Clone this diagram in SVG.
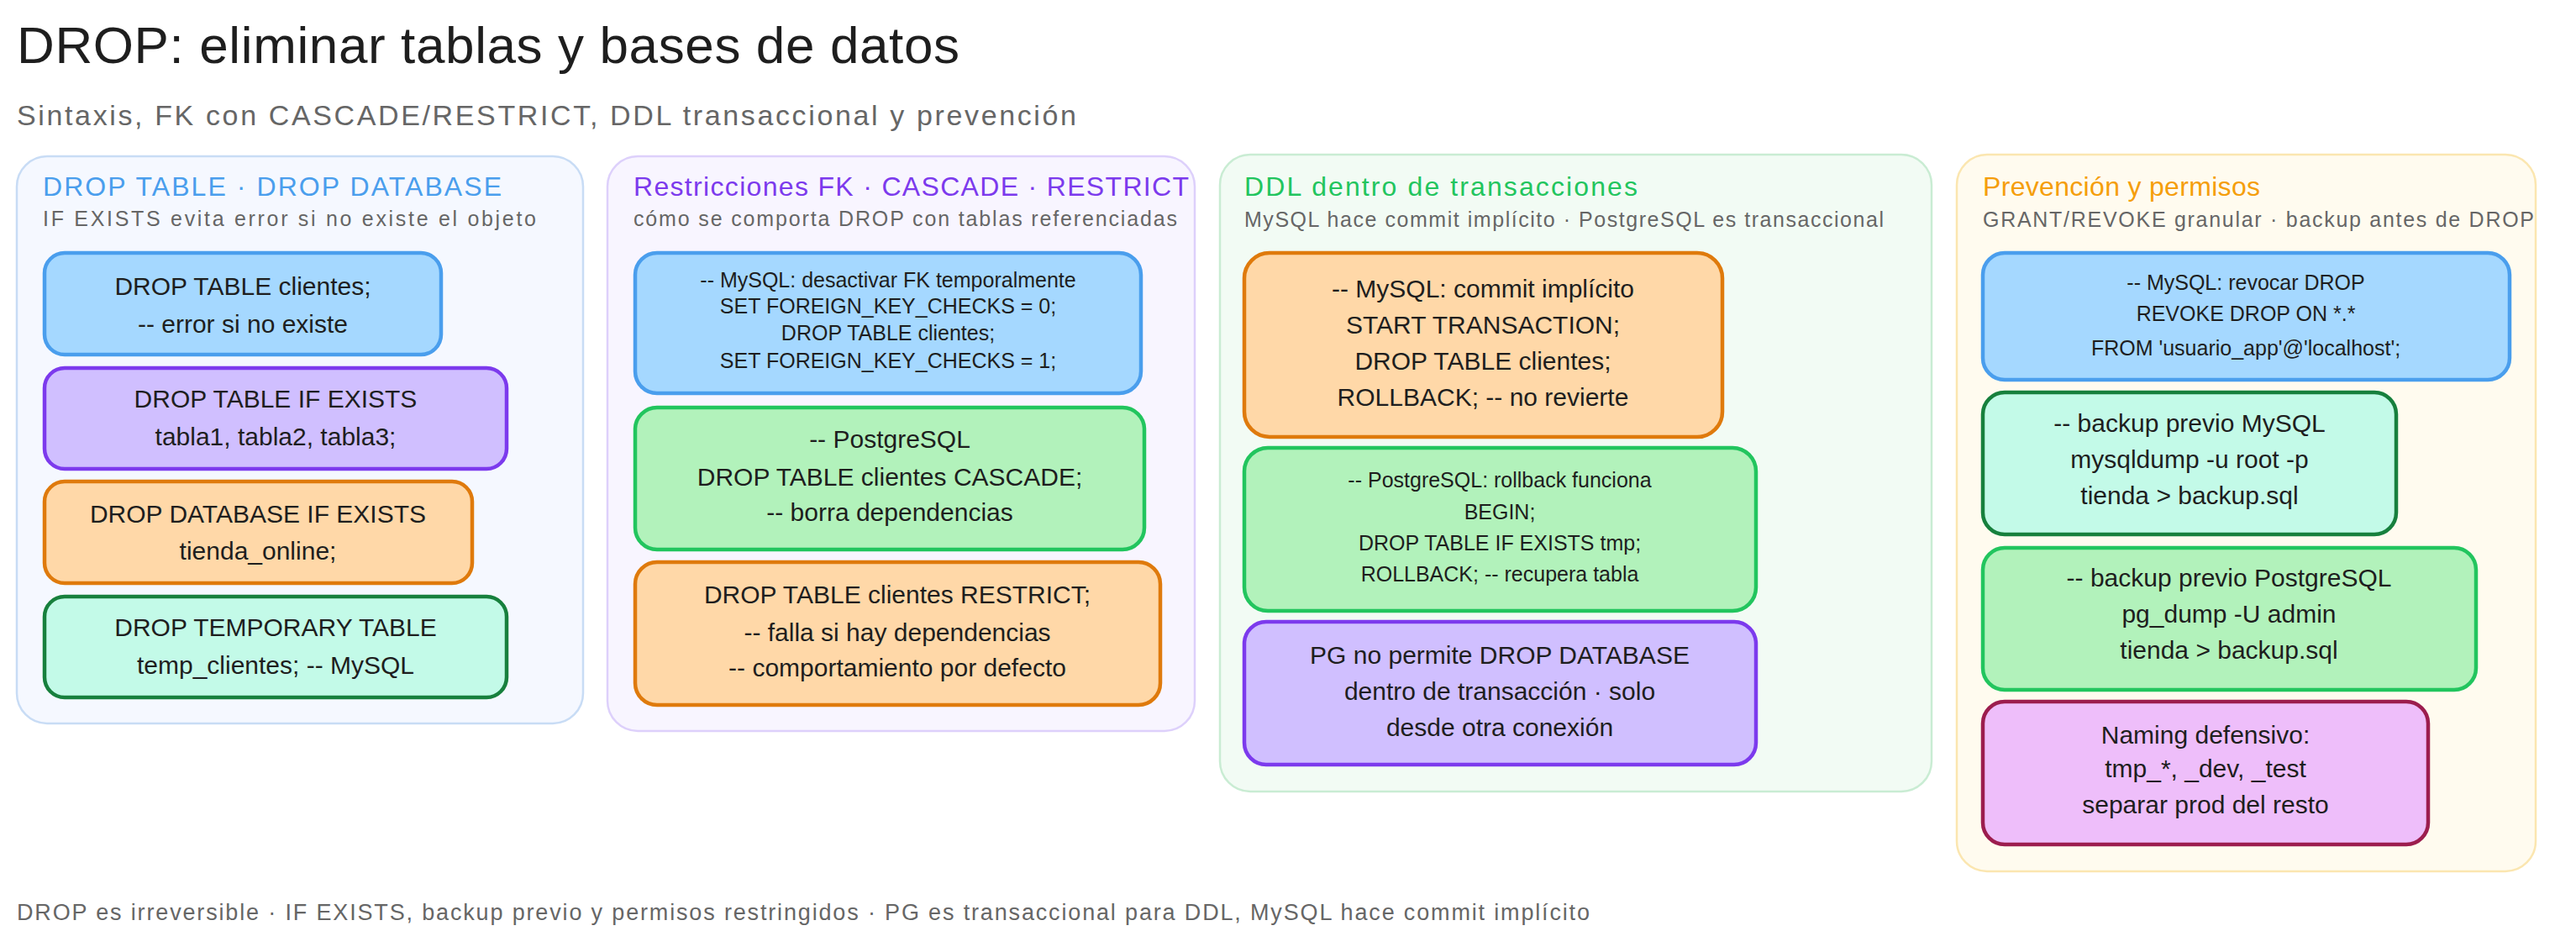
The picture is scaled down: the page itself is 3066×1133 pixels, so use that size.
<svg xmlns="http://www.w3.org/2000/svg" width="3066" height="1133" viewBox="0 0 3066 1133">
<style>
text{font-family:"Liberation Sans",Arial,sans-serif;fill:#1e1e1e}
.t{font-size:62px}
.sub{font-size:34px;fill:#666}
.ph{font-size:32px}
.ps{font-size:25px;fill:#666}
.n{font-size:30px;text-anchor:middle}
.s{font-size:25px;text-anchor:middle}
.foot{font-size:27px;fill:#666}
.pan{stroke-width:2.5}
.nd{stroke-width:4.5}
.blue{fill:#a5d8ff;stroke:#4a9eed}
.purple{fill:#d0bfff;stroke:#7c3aed}
.orange{fill:#ffd8a8;stroke:#df7a0c}
.teal{fill:#c3fae8;stroke:#17803d}
.green{fill:#b2f2bb;stroke:#22c55e}
.pink{fill:#eebefa;stroke:#9c1d4e}
</style>
<rect width="3066" height="1133" fill="#ffffff"/>
<text class="t" x="20" y="75" textLength="1122">DROP: eliminar tablas y bases de datos</text>
<text class="sub" x="20" y="149" textLength="1261">Sintaxis, FK con CASCADE/RESTRICT, DDL transaccional y prevención</text>

<g id="panel1">
<rect class="pan" x="20" y="186" width="674" height="675" rx="36" fill="#f5f8ff" stroke="#c8dcf5"/>
<text class="ph" x="51" y="233" style="fill:#4a9eed" textLength="546">DROP TABLE · DROP DATABASE</text>
<text class="ps" x="51" y="269" textLength="587">IF EXISTS evita error si no existe el objeto</text>
</g>
<g id="panel2">
<rect class="pan" x="723" y="186" width="699" height="684" rx="36" fill="#f8f5ff" stroke="#ddd0fb"/>
<text class="ph" x="754" y="233" style="fill:#7c3aed" textLength="661">Restricciones FK · CASCADE · RESTRICT</text>
<text class="ps" x="754" y="269" textLength="647">cómo se comporta DROP con tablas referenciadas</text>
</g>
<g id="panel3">
<rect class="pan" x="1452" y="184" width="847" height="758" rx="36" fill="#f2fbf4" stroke="#c9ecd3"/>
<text class="ph" x="1481" y="233" style="fill:#22c55e" textLength="468">DDL dentro de transacciones</text>
<text class="ps" x="1481" y="270" textLength="761">MySQL hace commit implícito · PostgreSQL es transaccional</text>
</g>
<g id="panel4">
<rect class="pan" x="2329" y="184" width="689" height="853" rx="36" fill="#fffbef" stroke="#fbe6b0"/>
<text class="ph" x="2360" y="233" style="fill:#f59e0b" textLength="330">Prevención y permisos</text>
<text class="ps" x="2360" y="270" textLength="656">GRANT/REVOKE granular · backup antes de DROP</text>
</g>

<g id="n1"><rect class="nd blue" x="53" y="301" width="472" height="121" rx="24"/>
<text class="n" x="289" y="351">DROP TABLE clientes;</text><text class="n" x="289" y="396">-- error si no existe</text></g>
<g id="n2"><rect class="nd purple" x="53" y="438" width="550" height="120" rx="24"/>
<text class="n" x="328" y="485">DROP TABLE IF EXISTS</text><text class="n" x="328" y="530">tabla1, tabla2, tabla3;</text></g>
<g id="n3"><rect class="nd orange" x="53" y="573" width="509" height="121" rx="24"/>
<text class="n" x="307" y="622">DROP DATABASE IF EXISTS</text><text class="n" x="307" y="666">tienda_online;</text></g>
<g id="n4"><rect class="nd teal" x="53" y="710" width="550" height="120" rx="24"/>
<text class="n" x="328" y="757">DROP TEMPORARY TABLE</text><text class="n" x="328" y="802">temp_clientes; -- MySQL</text></g>

<g id="n5"><rect class="nd blue" x="756" y="301" width="602" height="167" rx="26"/>
<text class="s" x="1057" y="342">-- MySQL: desactivar FK temporalmente</text>
<text class="s" x="1057" y="373">SET FOREIGN_KEY_CHECKS = 0;</text>
<text class="s" x="1057" y="405">DROP TABLE clientes;</text>
<text class="s" x="1057" y="438">SET FOREIGN_KEY_CHECKS = 1;</text></g>
<g id="n6"><rect class="nd green" x="756" y="485" width="606" height="169" rx="26"/>
<text class="n" x="1059" y="533">-- PostgreSQL</text>
<text class="n" x="1059" y="578">DROP TABLE clientes CASCADE;</text>
<text class="n" x="1059" y="620">-- borra dependencias</text></g>
<g id="n7"><rect class="nd orange" x="756" y="669" width="625" height="170" rx="26"/>
<text class="n" x="1068" y="718">DROP TABLE clientes RESTRICT;</text>
<text class="n" x="1068" y="763">-- falla si hay dependencias</text>
<text class="n" x="1068" y="805">-- comportamiento por defecto</text></g>

<g id="n8"><rect class="nd orange" x="1481" y="301" width="569" height="219" rx="30"/>
<text class="n" x="1765" y="354">-- MySQL: commit implícito</text>
<text class="n" x="1765" y="397">START TRANSACTION;</text>
<text class="n" x="1765" y="440">DROP TABLE clientes;</text>
<text class="n" x="1765" y="483">ROLLBACK; -- no revierte</text></g>
<g id="n9"><rect class="nd green" x="1481" y="533" width="609" height="194" rx="28"/>
<text class="s" x="1785" y="580">-- PostgreSQL: rollback funciona</text>
<text class="s" x="1785" y="618">BEGIN;</text>
<text class="s" x="1785" y="655">DROP TABLE IF EXISTS tmp;</text>
<text class="s" x="1785" y="692">ROLLBACK; -- recupera tabla</text></g>
<g id="n10"><rect class="nd purple" x="1481" y="740" width="609" height="170" rx="26"/>
<text class="n" x="1785" y="790">PG no permite DROP DATABASE</text>
<text class="n" x="1785" y="833">dentro de transacción · solo</text>
<text class="n" x="1785" y="876">desde otra conexión</text></g>

<g id="n11"><rect class="nd blue" x="2360" y="301" width="627" height="151" rx="26"/>
<text class="s" x="2673" y="345">-- MySQL: revocar DROP</text>
<text class="s" x="2673" y="382">REVOKE DROP ON *.*</text>
<text class="s" x="2673" y="423">FROM 'usuario_app'@'localhost';</text></g>
<g id="n12"><rect class="nd teal" x="2360" y="467" width="492" height="169" rx="26"/>
<text class="n" x="2606" y="514">-- backup previo MySQL</text>
<text class="n" x="2606" y="557">mysqldump -u root -p</text>
<text class="n" x="2606" y="600">tienda &gt; backup.sql</text></g>
<g id="n13"><rect class="nd green" x="2360" y="652" width="587" height="169" rx="26"/>
<text class="n" x="2653" y="698">-- backup previo PostgreSQL</text>
<text class="n" x="2653" y="741">pg_dump -U admin</text>
<text class="n" x="2653" y="784">tienda &gt; backup.sql</text></g>
<g id="n14"><rect class="nd pink" x="2360" y="835" width="530" height="170" rx="26"/>
<text class="n" x="2625" y="885">Naming defensivo:</text>
<text class="n" x="2625" y="925">tmp_*, _dev, _test</text>
<text class="n" x="2625" y="968">separar prod del resto</text></g>

<g id="connectors"></g>
<text class="foot" x="20" y="1095" textLength="1872">DROP es irreversible · IF EXISTS, backup previo y permisos restringidos · PG es transaccional para DDL, MySQL hace commit implícito</text>
</svg>
